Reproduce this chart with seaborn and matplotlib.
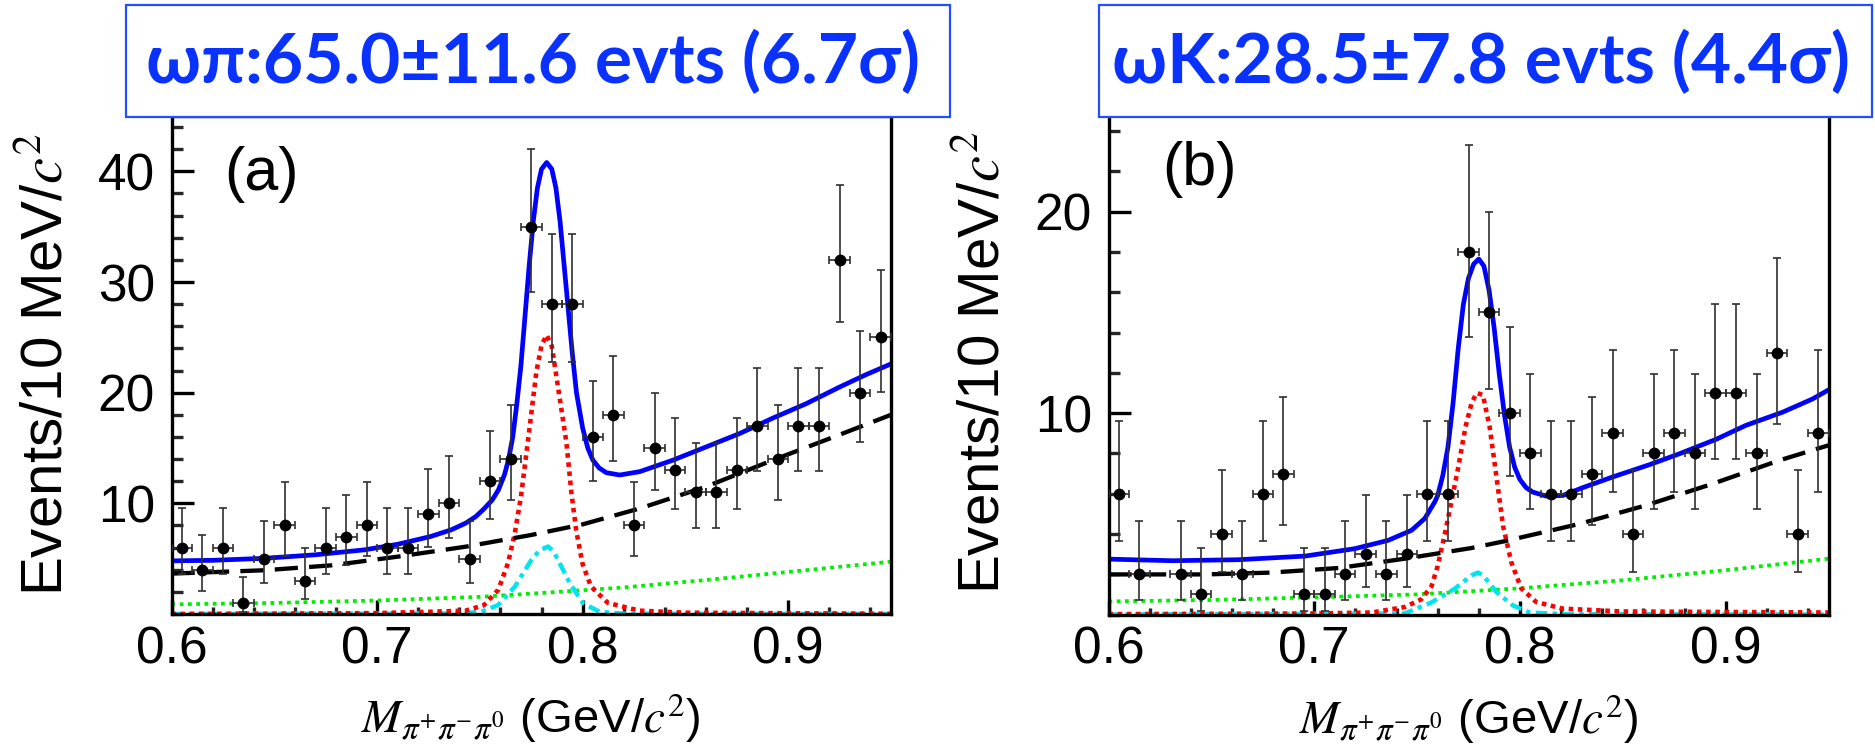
import numpy as np
import pandas as pd
import matplotlib
matplotlib.use("Agg")
import matplotlib.pyplot as plt
import seaborn as sns
from matplotlib.patches import Rectangle
from matplotlib.ticker import FixedLocator, MultipleLocator

# ---------------- data ----------------
mass_bins = [0.605, 0.615, 0.625, 0.635, 0.645, 0.655, 0.665, 0.675, 0.685, 0.695,
             0.705, 0.715, 0.725, 0.735, 0.745, 0.755, 0.765, 0.775, 0.785, 0.795,
             0.805, 0.815, 0.825, 0.835, 0.845, 0.855, 0.865, 0.875, 0.885, 0.895,
             0.905, 0.915, 0.925, 0.935, 0.945]
counts_a = [6, 4, 6, 1, 5, 8, 3, 6, 7, 8, 6, 6, 9, 10, 5, 12, 14, 35, 28, 28,
            16, 18, 8, 15, 13, 11, 11, 13, 17, 14, 17, 17, 32, 20, 25]
counts_b = [6, 2, 0, 2, 1, 4, 2, 6, 7, 1, 1, 2, 3, 2, 3, 6, 6, 18, 15, 10,
            8, 6, 6, 7, 9, 4, 8, 9, 8, 11, 11, 8, 13, 4, 9]

# panel (a) curves
fitA_x = [0.600, 0.620, 0.645, 0.670, 0.694, 0.710, 0.726, 0.736, 0.743, 0.748, 0.752, 0.756,
          0.759, 0.762, 0.764, 0.766, 0.768, 0.770, 0.772, 0.774, 0.776, 0.778, 0.780, 0.7825,
          0.785, 0.787, 0.789, 0.791, 0.793, 0.795, 0.797, 0.800, 0.8025, 0.805, 0.808, 0.8115,
          0.818, 0.8277, 0.8439, 0.8601, 0.8763, 0.8925, 0.9087, 0.9249, 0.9375, 0.950]
fitA_y = [4.8, 4.85, 5.03, 5.35, 5.8, 6.3, 7.0, 7.6, 8.2, 8.8, 9.5, 10.3,
          11.2, 12.6, 14.0, 16.0, 19.0, 22.5, 27.0, 31.5, 35.5, 38.5, 40.2, 40.8,
          40.2, 38.5, 35.5, 31.5, 27.5, 23.5, 20.0, 16.8, 15.0, 13.9, 13.2, 12.77,
          12.56, 12.86, 13.9, 15.1, 16.3, 17.7, 19.0, 20.5, 21.6, 22.6]
bkgA_x = [0.600, 0.645, 0.678, 0.710, 0.743, 0.775, 0.800, 0.828, 0.860, 0.8925, 0.925, 0.950]
bkgA_y = [3.65, 3.95, 4.4, 5.18, 6.08, 7.14, 8.1, 9.55, 11.5, 13.9, 16.2, 18.0]
flatA_x = [0.60, 0.65, 0.70, 0.75, 0.78, 0.82, 0.86, 0.90, 0.95]
flatA_y = [0.87, 1.0, 1.22, 1.55, 1.9, 2.4, 3.07, 3.8, 4.73]
sigA_x = [0.600, 0.700, 0.725, 0.743, 0.752, 0.759, 0.7637, 0.767, 0.770, 0.7743, 0.7775, 0.780,
          0.7825, 0.785, 0.7886, 0.7921, 0.7945, 0.7969, 0.800, 0.804, 0.8123, 0.8277, 0.850, 0.950]
sigA_y = [0.0, 0.08, 0.2, 0.3, 0.8, 2.2, 4.6, 7.3, 10.6, 17.0, 21.9, 24.3,
          25.2, 24.2, 19.8, 15.5, 11.0, 7.5, 4.5, 2.5, 1.0, 0.3, 0.12, 0.02]
pkA_x = [0.600, 0.740, 0.7507, 0.7588, 0.767, 0.7751, 0.779, 0.7832, 0.786, 0.7888, 0.7937,
         0.8002, 0.8083, 0.820, 0.950]
pkA_y = [0.0, 0.05, 0.2, 0.8, 2.47, 4.9, 5.75, 6.1, 5.6, 4.6, 2.8, 0.97, 0.2, 0.03, 0.0]

# panel (b) curves
fitB_x = [0.600, 0.631, 0.663, 0.6955, 0.7198, 0.7359, 0.7473, 0.7537, 0.7586, 0.760,
          0.7625, 0.765, 0.7675, 0.770, 0.7725, 0.775, 0.7775, 0.780, 0.7825, 0.785,
          0.7875, 0.790, 0.7925, 0.795, 0.7975, 0.800, 0.803, 0.8062, 0.8127, 0.8208,
          0.8306, 0.8451, 0.863, 0.8775, 0.8954, 0.9098, 0.9278, 0.9422, 0.950]
fitB_y = [2.75, 2.67, 2.72, 2.9, 3.27, 3.68, 4.18, 4.76, 5.59, 5.9,
          6.9, 8.3, 10.5, 13.2, 15.4, 16.7, 17.4, 17.65, 17.3, 16.1,
          14.2, 11.9, 9.9, 8.3, 7.3, 6.7, 6.3, 6.08, 5.88, 5.91,
          6.3, 6.83, 7.44, 7.98, 8.7, 9.39, 10.05, 10.7, 11.15]
bkgB_x = [0.600, 0.647, 0.679, 0.712, 0.744, 0.7764, 0.7926, 0.829, 0.8613, 0.8937, 0.926, 0.950]
bkgB_y = [1.99, 1.99, 2.08, 2.31, 2.77, 3.3, 3.64, 4.5, 5.42, 6.49, 7.65, 8.4]
flatB_x = [0.60, 0.65, 0.70, 0.75, 0.80, 0.85, 0.90, 0.95]
flatB_y = [0.65, 0.72, 0.85, 1.0, 1.3, 1.7, 2.2, 2.77]
sigB_x = [0.600, 0.700, 0.728, 0.744, 0.752, 0.757, 0.760, 0.7635, 0.7667, 0.770, 0.7735, 0.7765,
          0.779, 0.782, 0.7853, 0.7885, 0.7918, 0.7958, 0.8006, 0.8079, 0.8208, 0.850, 0.950]
sigB_y = [0.02, 0.05, 0.1, 0.37, 0.75, 1.4, 2.4, 4.0, 5.6, 7.3, 9.3, 10.5,
          11.0, 10.9, 9.3, 6.9, 4.4, 2.6, 1.3, 0.62, 0.29, 0.15, 0.1]
pkB_x = [0.600, 0.744, 0.757, 0.7683, 0.7764, 0.7796, 0.7821, 0.7885, 0.7966, 0.8047, 0.820, 0.950]
pkB_y = [0.0, 0.05, 0.6, 1.28, 1.94, 2.08, 1.95, 1.12, 0.45, 0.1, 0.02, 0.0]

x_ticks = [0.6, 0.7, 0.8, 0.9]
x_ticklabels = ["0.6", "0.7", "0.8", "0.9"]
yticks_a = [10, 20, 30, 40]
yticks_b = [10, 20]
titles = ["ωπ:65.0±11.6 evts (6.7σ)", "ωK:28.5±7.8 evts (4.4σ)"]
panel_tags = ["(a)", "(b)"]

# ---------------- style ----------------
sns.set_theme(style="ticks")
plt.rcParams["font.family"] = ["Liberation Sans", "DejaVu Sans"]
plt.rcParams["mathtext.fontset"] = "stix"

W, H = 1875, 746
fig = plt.figure(figsize=(W / 100, H / 100), dpi=100)
fig.patch.set_facecolor("white")

axA = fig.add_axes([171.5 / W, (H - 614) / H, 719.5 / W, (614 - 116) / H])
axB = fig.add_axes([1108.5 / W, (H - 614.5) / H, 720 / W, (614.5 - 111) / H])


def poisson_errors(n):
    n = np.asarray(n, dtype=float)
    lo = n - n * (1 - 1 / (9 * n) - 1 / (3 * np.sqrt(n))) ** 3
    hi = np.sqrt(n + 0.75) + 1
    return lo, hi


def draw_panel(ax, counts, fit, bkg, flat, sig, pk, ylim, yticks, tag):
    df = pd.DataFrame({"m": mass_bins, "n": counts})
    df = df[df["n"] > 0]
    lo, hi = poisson_errors(df["n"].values)
    # curves
    sns.lineplot(x=flat[0], y=flat[1], ax=ax, color="#00EE00", lw=2.7,
                 linestyle=(0, (1, 1.2)), zorder=2)
    sns.lineplot(x=pk[0], y=pk[1], ax=ax, color="#00E5EE", lw=3.2,
                 linestyle=(0, (2.6, 1.2, 1, 1.2)), zorder=2)
    sns.lineplot(x=sig[0], y=sig[1], ax=ax, color="#FF0000", lw=3.3,
                 linestyle=(0, (1, 1)), zorder=2)
    sns.lineplot(x=bkg[0], y=bkg[1], ax=ax, color="black", lw=3.1,
                 linestyle=(0, (5.4, 2.6)), zorder=2)
    sns.lineplot(x=fit[0], y=fit[1], ax=ax, color="#0000FF", lw=3.4, zorder=2)
    # data
    ax.errorbar(df["m"], df["n"], yerr=[lo, hi], xerr=0.005, fmt="none",
                ecolor="#303030", elinewidth=1.2, capsize=2.8, capthick=1.2, zorder=3)
    sns.scatterplot(x=df["m"], y=df["n"], ax=ax, color="black", s=72,
                    edgecolor="black", linewidth=0, zorder=4)

    ax.set_xlim(0.6, 0.95)
    ax.set_ylim(*ylim)
    ax.xaxis.set_major_locator(FixedLocator(x_ticks))
    ax.set_xticklabels(x_ticklabels)
    ax.xaxis.set_minor_locator(MultipleLocator(0.02))
    ax.yaxis.set_major_locator(FixedLocator(yticks))
    ax.set_yticklabels([str(v) for v in yticks])
    ax.yaxis.set_minor_locator(MultipleLocator(2))
    ax.tick_params(axis="x", which="major", direction="in", length=10, width=2.4,
                   labelsize=37, pad=8, top=False, colors="black")
    ax.tick_params(axis="x", which="minor", direction="in", length=5, width=2.4, top=False)
    ax.tick_params(axis="y", which="major", direction="in", length=16, width=2.4,
                   labelsize=37, pad=12, right=False, colors="black")
    ax.tick_params(axis="y", which="minor", direction="in", length=8, width=2.4, right=False)
    for s in ax.spines.values():
        s.set_visible(True)
        s.set_linewidth(2.4)
        s.set_color("black")
    ax.set_facecolor("white")
    ax.grid(False)

    ax.set_xlabel(r"$M_{\pi^{+}\pi^{-}\pi^{0}}$ (GeV/$c^{2}$)", fontsize=34, color="black")
    ax.xaxis.set_label_coords(0.5, -0.155)
    ax.set_ylabel("Events/10 MeV/$c^{2}$", fontsize=42, color="black")
    ax.yaxis.set_label_coords(-0.135, 0.5)
    ax.text(0.074, 0.94, tag, transform=ax.transAxes, fontsize=44, ha="left", va="top",
            color="black")


draw_panel(axA, counts_a, (fitA_x, fitA_y), (bkgA_x, bkgA_y), (flatA_x, flatA_y),
           (sigA_x, sigA_y), (pkA_x, pkA_y), (0, 45), yticks_a, panel_tags[0])
draw_panel(axB, counts_b, (fitB_x, fitB_y), (bkgB_x, bkgB_y), (flatB_x, flatB_y),
           (sigB_x, sigB_y), (pkB_x, pkB_y), (0, 25), yticks_b, panel_tags[1])
axB.yaxis.set_label_coords(-0.135, 0.5)

# title boxes
boxes = [(125.5, 950.0), (1099.0, 1872.0)]
for (x0, x1), title in zip(boxes, titles):
    rect = Rectangle((x0 / W, (H - 117.3) / H), (x1 - x0) / W, (117.3 - 5) / H,
                     transform=fig.transFigure, facecolor="white", edgecolor="#1F4FFF",
                     lw=1.6, zorder=10)
    fig.add_artist(rect)
    fig.text((x0 + x1) / 2 / W - 5 / W, 1 - 62 / H, title, ha="center", va="center",
             fontsize=50, fontweight="bold", color="#0A32FF",
             family=["Lato", "Noto Sans", "DejaVu Sans"], zorder=11)

fig.savefig("out.png", dpi=100, facecolor="white")
